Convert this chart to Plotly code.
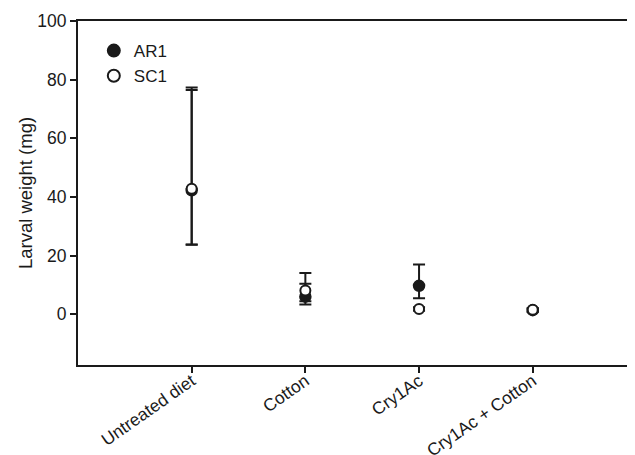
import plotly.graph_objects as go

categories = ["Untreated diet", "Cotton", "Cry1Ac", "Cry1Ac + Cotton"]
ar1_mean = [42.3, 6.0, 9.7, 1.4]
ar1_err_plus = [35.0, 8.1, 7.3, 0.5]
ar1_err_minus = [18.6, 2.7, 4.2, 0.5]
sc1_mean = [42.8, 8.1, 1.8, 1.5]
sc1_err_plus = [33.7, 2.3, 0.6, 0.6]
sc1_err_minus = [19.0, 3.7, 0.6, 0.6]
y_ticks = [0, 20, 40, 60, 80, 100]

FONT = "Liberation Sans, Arial, sans-serif"
INK = "#1a1a1a"
xpos = list(range(len(categories)))

fig = go.Figure()
fig.add_trace(go.Scatter(
    x=xpos, y=ar1_mean, mode="markers", name="AR1",
    marker=dict(symbol="circle", size=11, color=INK, line=dict(color=INK, width=1.5)),
    error_y=dict(type="data", symmetric=False, array=ar1_err_plus, arrayminus=ar1_err_minus,
                 color=INK, thickness=2, width=6),
))
fig.add_trace(go.Scatter(
    x=xpos, y=sc1_mean, mode="markers", name="SC1",
    marker=dict(symbol="circle", size=10, color="white", line=dict(color=INK, width=2)),
    error_y=dict(type="data", symmetric=False, array=sc1_err_plus, arrayminus=sc1_err_minus,
                 color=INK, thickness=2, width=6),
))

fig.update_layout(
    width=635, height=455,
    margin=dict(l=70, r=0, t=13, b=98, autoexpand=False),
    paper_bgcolor="white", plot_bgcolor="white",
    font=dict(family=FONT, size=17, color=INK),
    showlegend=True,
    legend=dict(x=0.028, y=0.965, xanchor="left", yanchor="top",
                bgcolor="rgba(0,0,0,0)", borderwidth=0,
                font=dict(family=FONT, size=17, color=INK),
                itemsizing="constant", tracegroupgap=0),
)
fig.update_xaxes(
    range=[-1, 3.97], tickmode="array", tickvals=xpos, ticktext=categories,
    tickangle=-35, ticks="outside", ticklen=6, tickwidth=2, tickcolor=INK,
    showline=True, linecolor=INK, linewidth=2, mirror=True,
    showgrid=False, zeroline=False, automargin=False,
    ticklabelstandoff=-9,
    tickfont=dict(family=FONT, size=17.5, color=INK),
)
fig.update_yaxes(
    range=[-17.3, 100], tickmode="array", tickvals=y_ticks,
    ticks="outside", ticklen=6, tickwidth=2, tickcolor=INK,
    showline=True, linecolor=INK, linewidth=2, mirror=False,
    showgrid=False, zeroline=False, automargin=False,
    tickfont=dict(family=FONT, size=17.5, color=INK),
    title=dict(text="Larval weight (mg)", font=dict(family=FONT, size=18.5, color=INK), standoff=0),
)

fig.write_html("out.html")
